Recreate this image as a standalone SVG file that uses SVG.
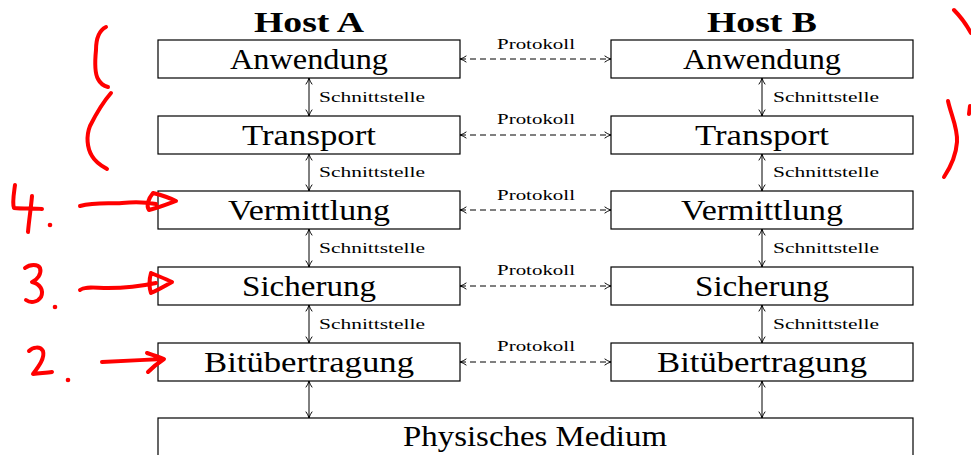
<svg xmlns="http://www.w3.org/2000/svg" width="971" height="455" viewBox="0 0 971 455">
  <style>
    .box { fill: #fff; stroke: #000; stroke-width: 1.2; }
    .lbl { font-family: "Liberation Serif", "DejaVu Serif", serif; font-size: 30px; text-anchor: middle; fill: #000; }
    .host { font-family: "Liberation Serif", "DejaVu Serif", serif; font-size: 29px; font-weight: bold; text-anchor: middle; fill: #000; }
    .small { font-family: "Liberation Serif", "DejaVu Serif", serif; font-size: 14px; fill: #000; }
    .iface { stroke: #000; stroke-width: 1; fill: none; marker-start: url(#tip); marker-end: url(#tip); }
    .proto { stroke: #000; stroke-width: 1; fill: none; stroke-dasharray: 6 4; marker-start: url(#tip); marker-end: url(#tip); }
    .ink { stroke: #f00; stroke-width: 4; fill: none; stroke-linecap: round; stroke-linejoin: round; }
    .dot { fill: #f00; }
  </style>
  <defs>
    <marker id="tip" viewBox="0 0 10 10" refX="9" refY="5" markerWidth="8" markerHeight="8" markerUnits="userSpaceOnUse" orient="auto-start-reverse">
      <path d="M1,1 Q5,4 9,5 Q5,6 1,9" fill="none" stroke="#000" stroke-width="1.2"/>
    </marker>
  </defs>

  <!-- column headings -->
  <text class="host" x="309" y="32" textLength="110" lengthAdjust="spacingAndGlyphs">Host A</text>
  <text class="host" x="762" y="32" textLength="110" lengthAdjust="spacingAndGlyphs">Host B</text>

  <!-- Host A layers -->
  <g id="a-anwendung"><rect class="box" x="158" y="40" width="302" height="38"/><text class="lbl" x="309" y="69" textLength="158" lengthAdjust="spacingAndGlyphs">Anwendung</text></g>
  <g id="a-transport"><rect class="box" x="158" y="116" width="302" height="38"/><text class="lbl" x="309" y="145" textLength="134" lengthAdjust="spacingAndGlyphs">Transport</text></g>
  <g id="a-vermittlung"><rect class="box" x="158" y="191" width="302" height="38"/><text class="lbl" x="309" y="220" textLength="162" lengthAdjust="spacingAndGlyphs">Vermittlung</text></g>
  <g id="a-sicherung"><rect class="box" x="158" y="267" width="302" height="38"/><text class="lbl" x="309" y="296" textLength="134" lengthAdjust="spacingAndGlyphs">Sicherung</text></g>
  <g id="a-bit"><rect class="box" x="158" y="343" width="302" height="38"/><text class="lbl" x="309" y="372" textLength="210" lengthAdjust="spacingAndGlyphs">Bitübertragung</text></g>

  <!-- Host B layers -->
  <g id="b-anwendung"><rect class="box" x="611" y="40" width="302" height="38"/><text class="lbl" x="762" y="69" textLength="158" lengthAdjust="spacingAndGlyphs">Anwendung</text></g>
  <g id="b-transport"><rect class="box" x="611" y="116" width="302" height="38"/><text class="lbl" x="762" y="145" textLength="134" lengthAdjust="spacingAndGlyphs">Transport</text></g>
  <g id="b-vermittlung"><rect class="box" x="611" y="191" width="302" height="38"/><text class="lbl" x="762" y="220" textLength="162" lengthAdjust="spacingAndGlyphs">Vermittlung</text></g>
  <g id="b-sicherung"><rect class="box" x="611" y="267" width="302" height="38"/><text class="lbl" x="762" y="296" textLength="134" lengthAdjust="spacingAndGlyphs">Sicherung</text></g>
  <g id="b-bit"><rect class="box" x="611" y="343" width="302" height="38"/><text class="lbl" x="762" y="372" textLength="210" lengthAdjust="spacingAndGlyphs">Bitübertragung</text></g>

  <!-- shared medium -->
  <g id="medium"><rect class="box" x="158" y="418" width="755" height="60"/><text class="lbl" x="535" y="446" textLength="264" lengthAdjust="spacingAndGlyphs">Physisches Medium</text></g>

  <!-- connectors -->
  <g id="connectors">
    <line class="iface" x1="309" y1="78" x2="309" y2="116"/>
    <line class="iface" x1="309" y1="154" x2="309" y2="191"/>
    <line class="iface" x1="309" y1="229" x2="309" y2="267"/>
    <line class="iface" x1="309" y1="305" x2="309" y2="343"/>
    <line class="iface" x1="309" y1="381" x2="309" y2="418"/>
    <line class="iface" x1="762" y1="78" x2="762" y2="116"/>
    <line class="iface" x1="762" y1="154" x2="762" y2="191"/>
    <line class="iface" x1="762" y1="229" x2="762" y2="267"/>
    <line class="iface" x1="762" y1="305" x2="762" y2="343"/>
    <line class="iface" x1="762" y1="381" x2="762" y2="418"/>
    <line class="proto" x1="460" y1="59" x2="611" y2="59"/>
    <line class="proto" x1="460" y1="135" x2="611" y2="135"/>
    <line class="proto" x1="460" y1="210" x2="611" y2="210"/>
    <line class="proto" x1="460" y1="286" x2="611" y2="286"/>
    <line class="proto" x1="460" y1="362" x2="611" y2="362"/>
    <g class="small">
      <text x="319" y="102" textLength="106" lengthAdjust="spacingAndGlyphs">Schnittstelle</text>
      <text x="319" y="177" textLength="106" lengthAdjust="spacingAndGlyphs">Schnittstelle</text>
      <text x="319" y="253" textLength="106" lengthAdjust="spacingAndGlyphs">Schnittstelle</text>
      <text x="319" y="329" textLength="106" lengthAdjust="spacingAndGlyphs">Schnittstelle</text>
      <text x="773" y="102" textLength="106" lengthAdjust="spacingAndGlyphs">Schnittstelle</text>
      <text x="773" y="177" textLength="106" lengthAdjust="spacingAndGlyphs">Schnittstelle</text>
      <text x="773" y="253" textLength="106" lengthAdjust="spacingAndGlyphs">Schnittstelle</text>
      <text x="773" y="329" textLength="106" lengthAdjust="spacingAndGlyphs">Schnittstelle</text>
      <text x="497" y="49" textLength="78" lengthAdjust="spacingAndGlyphs">Protokoll</text>
      <text x="497" y="124" textLength="78" lengthAdjust="spacingAndGlyphs">Protokoll</text>
      <text x="497" y="200" textLength="78" lengthAdjust="spacingAndGlyphs">Protokoll</text>
      <text x="497" y="275" textLength="78" lengthAdjust="spacingAndGlyphs">Protokoll</text>
      <text x="497" y="351" textLength="78" lengthAdjust="spacingAndGlyphs">Protokoll</text>
    </g>
  </g>

  <!-- hand-drawn red markup -->
  <g id="markup">
    <path class="ink" d="M106,27 C98,31 96,40 96,50 C95,60 94,72 98,79 C100,83 104,86 108,87"/>
    <path class="ink" d="M111,93 C104,101 96,114 90,126 C86,136 87,148 92,156 C96,163 102,166 107,169"/>
    <path class="ink" d="M954,10 C960,16 966,24 971,33"/>
    <path class="ink" d="M970,106 L969,114"/>
    <path class="ink" d="M948,101 C951,115 958,128 957,142 C956,156 950,168 944,177"/>
    <!-- 4. -->
    <path class="ink" d="M15,185 C14,193 12,203 14,208 C24,209 34,208 42,209 M32,196 C31,208 29,220 28,232"/>
    <circle class="dot" cx="50" cy="225" r="2.3"/>
    <path class="ink" d="M80,206 C95,202 108,204 122,203 C133,202 145,202 156,204 M153,193 C161,195 170,198 176,201 C168,204 158,208 149,210 C146,206 148,199 153,193"/>
    <!-- 3. -->
    <path class="ink" d="M25,268 C30,264 38,264 40,268 C42,274 37,280 32,282 C40,284 44,290 41,297 C37,303 30,303 26,300"/>
    <circle class="dot" cx="55" cy="307" r="2.3"/>
    <path class="ink" d="M80,290 C85,286 95,288 108,288 C125,288 142,286 156,283 M151,273 C158,276 166,279 172,282 C165,286 158,290 151,293 C149,287 149,280 151,273"/>
    <!-- 2. -->
    <path class="ink" d="M29,351 C33,347 40,346 43,351 C45,358 39,366 33,374 C41,373 47,373 52,372"/>
    <circle class="dot" cx="68" cy="380" r="2.3"/>
    <path class="ink" d="M102,362 C120,361 143,360 163,359 M147,353 C153,355 159,357 164,359 C158,363 152,368 148,372"/>
  </g>
</svg>
